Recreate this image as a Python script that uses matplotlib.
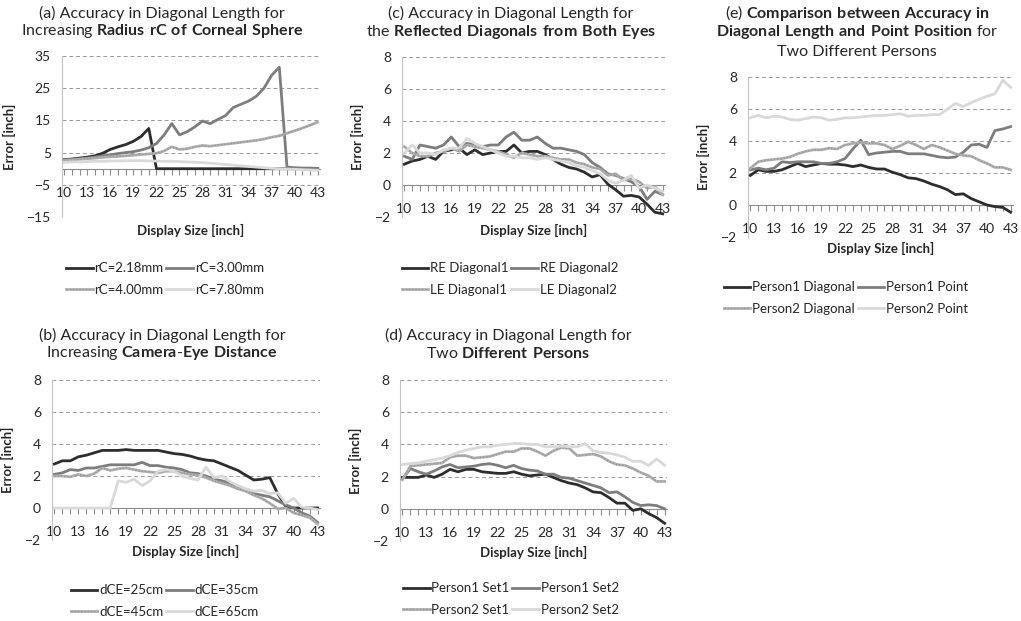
import matplotlib
matplotlib.use("Agg")
import matplotlib.pyplot as plt
from matplotlib.legend_handler import HandlerTuple

plt.rcParams['font.family'] = ['Lato', 'DejaVu Sans']
plt.rcParams['mathtext.fontset'] = 'custom'
plt.rcParams['mathtext.rm'] = 'Lato'
plt.rcParams['mathtext.bf'] = 'Lato:bold'

W, H = 1021, 621

display_size = list(range(10, 44))
xtick_labels = list(range(10, 44, 3))

# (a) radius rC of corneal sphere
rc_names = ['rC=2.18mm', 'rC=3.00mm', 'rC=4.00mm', 'rC=7.80mm']
rc_218 = [2.8, 3.0, 3.3, 3.6, 4.0, 4.8, 6.0, 6.8, 7.5, 8.5, 10.0, 12.5,
          0, 0, 0, 0, 0, 0, 0, 0, 0, 0, 0, 0, 0, 0, 0, 0, 0, 0, 0, 0, 0, 0]
rc_300 = [2.7, 2.9, 3.1, 3.3, 3.6, 4.0, 4.3, 4.7, 5.0, 5.3, 5.8, 6.5, 7.8, 10.5, 14.0,
          10.5, 11.5, 13.0, 14.8, 14.0, 15.3, 16.5, 19.0, 20.0, 21.0, 22.5, 25.0, 29.0, 31.5,
          0.5, 0.3, 0.2, 0.2, 0.1]
rc_400 = [2.5, 2.7, 2.9, 3.1, 3.3, 3.5, 3.7, 3.8, 4.0, 4.2, 4.4, 4.6, 4.8, 5.5, 6.8,
          6.0, 6.2, 6.8, 7.2, 7.0, 7.3, 7.6, 7.9, 8.2, 8.5, 8.8, 9.2, 9.8, 10.2, 11.0,
          11.8, 12.6, 13.5, 14.5]
rc_780 = [2.0, 2.1, 2.1, 2.2, 2.3, 2.3, 2.4, 2.4, 2.5, 2.5, 2.5, 2.4, 2.4, 2.3, 2.3,
          2.2, 2.1, 2.0, 1.9, 1.7, 1.5, 1.3, 1.1, 0.9, 0.7, 0.5, 0.3, 0.1, 0.0, -0.1,
          -0.2, -0.3, -0.4, -0.5]

# (b) camera-eye distance
dce_names = ['dCE=25cm', 'dCE=35cm', 'dCE=45cm', 'dCE=65cm']
dce_25 = [2.75, 2.95, 2.95, 3.2, 3.3, 3.45, 3.6, 3.6, 3.6, 3.65,
          3.6, 3.6, 3.6, 3.6, 3.5, 3.4, 3.35, 3.25, 3.1, 3.0,
          2.95, 2.75, 2.55, 2.35, 2.05, 1.75, 1.8, 1.9, 0.9, 0.1,
          0.0, 0.0, 0.0, 0.0]
dce_35 = [2.1, 2.2, 2.4, 2.35, 2.5, 2.5, 2.6, 2.7, 2.7, 2.7,
          2.7, 2.85, 2.65, 2.65, 2.55, 2.5, 2.4, 2.2, 2.15, 2.0,
          1.8, 1.7, 1.55, 1.35, 1.15, 0.9, 0.8, 0.7, 0.45, 0.2,
          0.0, -0.3, -0.5, -0.9]
dce_45 = [2.0, 2.0, 1.95, 2.1, 2.0, 2.15, 2.5, 2.35, 2.45, 2.5,
          2.4, 2.3, 2.25, 2.2, 2.3, 2.3, 2.2, 2.1, 2.05, 1.9,
          1.7, 1.55, 1.4, 1.2, 1.05, 0.8, 0.6, 0.3, -0.05, 0.0,
          -0.3, -0.45, -0.6, -1.0]
dce_65 = [0, 0, 0, 0, 0, 0, 0, 0, 1.7, 1.6,
          1.8, 1.4, 1.7, 2.3, 2.4, 2.3, 2.0, 1.85, 1.75, 2.55,
          1.9, 2.0, 1.65, 1.4, 1.2, 1.05, 1.1, 0.9, 0.95, 0.3,
          0.6, 0.05, 0.0, -0.1]

# (c) reflected diagonals from both eyes
eye_names = ['RE Diagonal1', 'RE Diagonal2', 'LE Diagonal1', 'LE Diagonal2']
re_diag1 = [1.3, 1.5, 1.6, 1.8, 1.6, 2.1, 2.2, 2.3, 1.9, 2.2,
            1.9, 2.0, 2.1, 2.1, 2.5, 2.0, 2.1, 2.1, 1.9, 1.6,
            1.3, 1.1, 1.0, 0.8, 0.5, 0.65, 0.05, -0.3, -0.7, -0.65,
            -0.75, -1.2, -1.7, -1.8]
re_diag2 = [1.8, 1.6, 2.5, 2.4, 2.3, 2.5, 3.0, 2.4, 2.6, 2.5,
            2.4, 2.5, 2.5, 3.0, 3.3, 2.8, 2.8, 3.0, 2.6, 2.3,
            2.3, 2.2, 2.1, 1.9, 1.4, 1.1, 0.7, 0.6, 0.4, 0.2,
            -0.1, -0.9, -0.4, -0.6]
le_diag1 = [2.4, 2.0, 1.8, 1.8, 2.0, 2.1, 2.3, 2.1, 2.5, 2.4,
            2.3, 2.2, 2.1, 1.9, 1.7, 2.0, 1.9, 1.8, 1.8, 1.7,
            1.6, 1.6, 1.4, 1.3, 1.1, 1.0, 0.6, 0.7, 0.3, 0.4,
            0.2, -0.2, -0.1, -0.6]
le_diag2 = [2.0, 2.5, 2.0, 2.0, 1.9, 2.2, 2.3, 2.3, 2.9, 2.6,
            2.4, 2.2, 2.0, 1.8, 1.8, 1.7, 1.7, 1.6, 1.7, 1.6,
            1.5, 1.4, 1.2, 1.1, 0.9, 0.7, 0.3, 0.1, 0.3, 0.6,
            -0.2, 0.0, -0.2, -0.4]

# (d) two different persons
set_names = ['Person1 Set1', 'Person1 Set2', 'Person2 Set1', 'Person2 Set2']
p1_set1 = [1.95, 1.95, 1.95, 2.1, 1.95, 2.15, 2.45, 2.3, 2.45, 2.45,
           2.3, 2.25, 2.2, 2.2, 2.3, 2.15, 2.05, 2.1, 2.15, 1.95,
           1.75, 1.6, 1.5, 1.3, 1.05, 1.0, 0.7, 0.35, 0.35, -0.1,
           0.0, -0.3, -0.55, -0.9]
p1_set2 = [1.85, 2.5, 2.3, 2.15, 2.35, 2.6, 2.75, 2.55, 2.6, 2.65,
           2.75, 2.8, 2.7, 2.55, 2.7, 2.5, 2.4, 2.35, 2.15, 2.15,
           1.95, 1.9, 1.75, 1.6, 1.45, 1.3, 1.0, 1.05, 0.75, 0.4,
           0.2, 0.25, 0.2, 0.0]
p2_set1 = [1.8, 2.65, 2.7, 2.75, 2.8, 2.85, 3.2, 3.3, 3.3, 3.15,
           3.2, 3.25, 3.4, 3.55, 3.55, 3.75, 3.75, 3.55, 3.3, 3.6,
           3.8, 3.75, 3.3, 3.35, 3.4, 3.25, 2.95, 2.75, 2.7, 2.5,
           2.25, 2.05, 1.7, 1.7]
p2_set2 = [2.75, 2.8, 2.85, 2.95, 3.05, 3.15, 3.3, 3.5, 3.65, 3.75,
           3.85, 3.85, 3.95, 4.0, 4.05, 4.05, 4.0, 4.0, 3.85, 3.85,
           3.9, 3.85, 3.85, 4.05, 3.6, 3.5, 3.45, 3.35, 3.2, 2.95,
           2.95, 2.7, 3.1, 2.7]

# (e) diagonal length vs point position
cmp_names = ['Person1 Diagonal', 'Person1 Point', 'Person2 Diagonal', 'Person2 Point']
p1_diag = [1.85, 2.2, 2.1, 2.1, 2.2, 2.4, 2.6, 2.4, 2.5, 2.6,
           2.55, 2.55, 2.5, 2.4, 2.5, 2.35, 2.25, 2.25, 2.05, 1.9,
           1.7, 1.65, 1.5, 1.3, 1.15, 0.95, 0.65, 0.7, 0.4, 0.2,
           0.0, -0.1, -0.15, -0.45]
p1_point = [2.2, 2.3, 2.2, 2.3, 2.7, 2.65, 2.7, 2.7, 2.7, 2.6,
            2.6, 2.7, 2.9, 3.5, 4.05, 3.15, 3.25, 3.3, 3.35, 3.35,
            3.2, 3.2, 3.2, 3.1, 3.0, 2.95, 3.0, 3.3, 3.75, 3.8,
            3.6, 4.65, 4.75, 4.9]
p2_diag = [2.3, 2.7, 2.8, 2.85, 2.9, 3.0, 3.2, 3.35, 3.45, 3.45,
           3.55, 3.5, 3.75, 3.85, 3.9, 3.85, 3.85, 3.75, 3.5, 3.7,
           3.95, 3.75, 3.5, 3.75, 3.6, 3.4, 3.2, 3.1, 3.05, 2.8,
           2.6, 2.35, 2.35, 2.2]
p2_point = [5.45, 5.6, 5.45, 5.55, 5.5, 5.35, 5.3, 5.4, 5.5, 5.45,
            5.3, 5.35, 5.45, 5.45, 5.5, 5.55, 5.6, 5.6, 5.65, 5.7,
            5.55, 5.6, 5.6, 5.65, 5.65, 6.0, 6.35, 6.15, 6.4, 6.6,
            6.8, 6.95, 7.8, 7.35]

COLORS = ['#2d2d2d', '#7d7d7d', '#b0b0b0', '#d9d9d9']
TXT = '#262626'

fig = plt.figure(figsize=(W / 100, H / 100), dpi=100)


def px_rect(l, t, r, b):
    return [l / W, 1 - b / H, (r - l) / W, (b - t) / H]


def panel(box, series, names, yticks, title_lines, title_cx, title_ys, leg_cx, leg_y, xlab_y):
    ax = fig.add_axes(px_rect(*box))
    handles = []
    for i, vals in enumerate(series):
        line, = ax.plot(display_size, vals, color=COLORS[i], lw=2.0, zorder=3 + i,
                        solid_joinstyle='round')
        if i == 2:
            # speckled texture of the third series
            dots, = ax.plot(display_size, vals, color='#949494', lw=0.9,
                            ls=(0, (1, 1.6)), zorder=3 + i)
            handles.append((line, dots))
        else:
            handles.append(line)

    ax.set_xlim(9.7, 43.3)
    ax.set_ylim(yticks[0], yticks[-1])
    ax.set_yticks(yticks)
    ax.set_xticks(display_size)
    ax.set_xticklabels([str(v) if v in xtick_labels else '' for v in display_size])
    ax.spines['bottom'].set_position(('data', 0))
    ax.spines['top'].set_visible(False)
    ax.spines['right'].set_visible(False)
    ax.spines['left'].set_color('#c4c4c4')
    ax.spines['bottom'].set_color('#8c8c8c')
    ax.spines['bottom'].set_zorder(2)
    ax.tick_params(axis='x', length=4, width=0.8, color='#8c8c8c', pad=9,
                   labelsize=10, labelcolor=TXT)
    ax.tick_params(axis='y', length=0, pad=8, labelsize=10, labelcolor=TXT)
    ax.set_axisbelow(True)
    ax.yaxis.grid(True, color='#9a9a9a', lw=0.7, ls=(0, (4, 3)))
    ax.patch.set_alpha(0)

    ax.set_ylabel('Error [inch]', fontsize=9.5, fontweight='bold', color=TXT, labelpad=8)
    cx = (box[0] + box[2]) / 2
    fig.text(cx / W, 1 - xlab_y / H, 'Display Size [inch]', fontsize=9.5,
             fontweight='bold', color=TXT, ha='center', va='center')

    for line_txt, y in zip(title_lines, title_ys):
        fig.text(title_cx / W, 1 - y / H, line_txt, fontsize=11.5, color=TXT,
                 ha='center', va='center')

    # legend fills row by row: 1 2 / 3 4
    order = [0, 2, 1, 3]
    ax.legend([handles[k] for k in order], [names[k] for k in order],
              loc='center', bbox_to_anchor=(leg_cx / W, 1 - leg_y / H),
              bbox_transform=fig.transFigure, ncol=2, frameon=False, fontsize=9.5,
              handlelength=2.0, handletextpad=0.15, columnspacing=0.2,
              labelspacing=0.7, labelcolor=TXT,
              handler_map={tuple: HandlerTuple(ndivide=1, pad=0)})
    return ax


panel((62, 56, 320, 217), [rc_218, rc_300, rc_400, rc_780], rc_names,
      [-15, -5, 5, 15, 25, 35],
      ['(a) Accuracy in Diagonal Length for',
       r'Increasing $\mathbf{Radius\ rC\ of\ Corneal\ Sphere}$'],
      162, [13, 31], 165, 279, 230)

panel((402, 57, 665, 217), [re_diag1, re_diag2, le_diag1, le_diag2], eye_names,
      [-2, 0, 2, 4, 6, 8],
      ['(c) Accuracy in Diagonal Length for',
       r'the $\mathbf{Reflected\ Diagonals\ from\ Both\ Eyes}$'],
      511, [13, 32], 510, 279, 230)

panel((748, 77, 1013, 237), [p1_diag, p1_point, p2_diag, p2_point], cmp_names,
      [-2, 0, 2, 4, 6, 8],
      [r'(e) $\mathbf{Comparison\ between\ Accuracy\ in}$',
       r'$\mathbf{Diagonal\ Length\ and\ Point\ Position}$ for',
       'Two Different Persons'],
      857, [13, 32, 52], 846, 298, 248)

panel((52, 380, 320, 540), [dce_25, dce_35, dce_45, dce_65], dce_names,
      [-2, 0, 2, 4, 6, 8],
      ['(b) Accuracy in Diagonal Length for',
       r'Increasing $\mathbf{Camera}$-$\mathbf{Eye\ Distance}$'],
      162, [335, 353], 165, 601, 551)

panel((400, 380, 667, 541), [p1_set1, p1_set2, p2_set1, p2_set2], set_names,
      [-2, 0, 2, 4, 6, 8],
      ['(d) Accuracy in Diagonal Length for',
       r'Two $\mathbf{Different\ Persons}$'],
      508, [335, 353], 511, 599, 552)

fig.savefig('out.png', dpi=100, facecolor='white')
